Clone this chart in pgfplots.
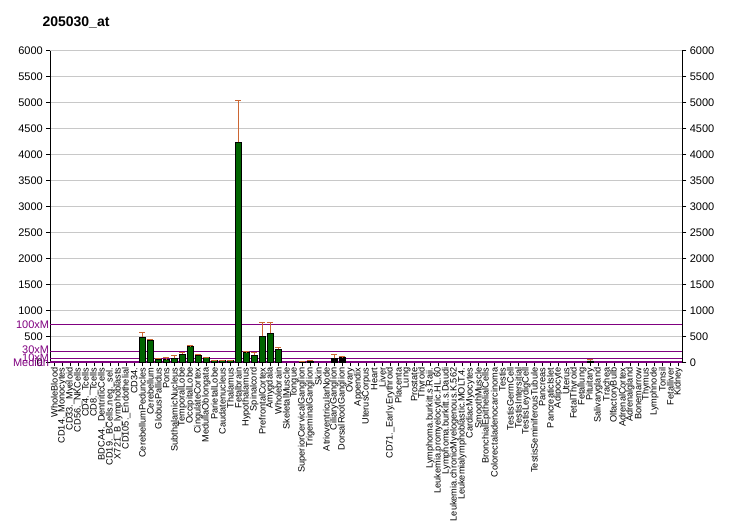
\documentclass[border=0pt]{standalone}
\usepackage{pgfplots}
\pgfplotsset{compat=1.18}
\usepackage{pgfplotstable}
\usepackage{fontspec}
\setmainfont{Liberation Sans}
\definecolor{bargreen}{RGB}{0,100,0}
\definecolor{errorange}{RGB}{204,102,51}
\definecolor{refpurple}{RGB}{128,0,128}
\definecolor{gridgray}{RGB}{200,200,200}

\pgfplotstableread{
x y e
12 490 90
13 427 16
14 67 20
15 55 46
16 80 58
17 163 33
18 300 30
19 144 19
20 99 3
21 45 3
22 35 13
23 45 3
24 4235 795
25 202 5
26 138 58
27 504 269
28 561 212
29 254 38
32 10 10
}\greendata

\pgfplotstableread{
x y e
33 30 18
36 80 78
37 106 2
68 30 24
}\blackdata

\begin{document}
\begin{tikzpicture}[x=1pt,y=1pt]
\path[use as bounding box] (0,0) rectangle (732,530);
\node[anchor=base west,font=\fontsize{14}{16}\selectfont\bfseries] at (39,503) {205030\_at};
\begin{axis}[
  at={(50.3pt,167.5pt)}, anchor=south west,
  scale only axis, width=632pt, height=312pt,
  xmin=0.5, xmax=79.5, ymin=0, ymax=6000,
  axis y line*=left, axis x line*=bottom,
  axis line style={black, line width=0.8pt},
  ytick={0,500,...,6000},
  ymajorgrids, grid style={gridgray, line width=0.8pt},
  yticklabel style={font=\fontsize{11}{12}\selectfont, /pgf/number format/.cd, fixed, set thousands separator={}},
  /pgf/number format/assume math mode=true,
  tick style={black, line width=0.6pt},
  tick align=outside, major tick length=4pt,
  xtick={1,...,79},
  xticklabels={WholeBlood, CD14.\_Monocytes, CD33.\_Myeloid, CD56.\_NKCells, CD4.\_Tcells, CD8.\_Tcells, BDCA4.\_DentriticCells, CD19.\_BCells.neg.\_sel., X721\_B\_lymphoblasts, CD105.\_Endothelial, CD34., CerebellumPeduncles, Cerebellum, GlobusPallidus, Pons, SubthalamicNucleus, TemporalLobe, OccipitalLobe, CingulateCortex, MedullaOblongata, ParietalLobe, Caudatenucleus, Thalamus, Fetalbrain, Hypothalamus, Spinalcord, PrefrontalCortex, Amygdala, Wholebrain, SkeletalMuscle, Tongue, SuperiorCervicalGanglion, TrigeminalGanglion, Skin, AtrioventricularNode, CiliaryGanglion, DorsalRootGanglion, Ovary, Appendix, UterusCorpus, Heart, Liver, CD71.\_Early.Erythroid, Placenta, Lung, Prostate, Thyroid, Lymphoma.burkitt.s.Raji., Leukemia.promyelocytic.HL.60, Lymphoma.burkitt.s.Daudi, Leukemia.chronicMyelogenous.K.562, Leukemialymphoblastic.MOLT.4., CardiacMyocytes, SmoothMuscle, BronchialEpithelialCells, Colorectaladenocarcinoma, Testis, TestisGermCell, TestisIntersitial, TestisLeydigCell, TestisSeminiferousTubule, Pancreas, PancreaticIslet, Adipocyte, Uterus, FetalThyroid, Fetallung, Pituitary, Salivarygland, Trachea, OlfactoryBulb, AdrenalCortex, Adrenalgland, Bonemarrow, Thymus, Lymphnode, Tonsil, Fetalliver, Kidney},
  xticklabel style={rotate=90, anchor=east, font=\fontsize{9.2}{10}\selectfont, inner sep=1pt},
  clip=false,
]
% reference lines
\addplot[refpurple, line width=1pt, forget plot] coordinates {(0.5,735) (79.5,735)};
\addplot[refpurple, line width=1pt, forget plot] coordinates {(0.5,220) (79.5,220)};
\addplot[refpurple, line width=1pt, forget plot] coordinates {(0.5,73.5) (79.5,73.5)};
\addplot[refpurple, line width=2.2pt, forget plot] coordinates {(0.5,7.35) (79.5,7.35)};
% bars
\addplot[ybar, bar width=6pt, bar shift=0pt, fill=bargreen, draw=black, line width=0.8pt,
  error bars/.cd, y dir=plus, y explicit,
  error bar style={errorange, line width=0.9pt},
  error mark options={errorange, rotate=90, mark size=3pt, line width=0.9pt}]
  table[x=x, y=y, y error=e] {\greendata};
\addplot[ybar, bar width=6pt, bar shift=0pt, fill=black, draw=black, line width=0.8pt,
  error bars/.cd, y dir=plus, y explicit,
  error bar style={errorange, line width=0.9pt},
  error mark options={errorange, rotate=90, mark size=3pt, line width=0.9pt}]
  table[x=x, y=y, y error=e] {\blackdata};
% reference labels
\node[anchor=east, text=refpurple, font=\fontsize{11}{12}\selectfont, inner sep=1pt] at (axis cs:0.5,735) {100xM};
\node[anchor=east, text=refpurple, font=\fontsize{11}{12}\selectfont, inner sep=1pt] at (axis cs:0.5,250) {30xM};
\node[anchor=east, text=refpurple, font=\fontsize{11}{12}\selectfont, inner sep=1pt] at (axis cs:0.5,100) {10xM};
\node[anchor=east, text=refpurple, font=\fontsize{11}{12}\selectfont, inner sep=1pt] at (axis cs:0.5,-5) {Median};
\end{axis}
\begin{axis}[
  at={(50.3pt,167.5pt)}, anchor=south west,
  scale only axis, width=632pt, height=312pt,
  xmin=0.5, xmax=79.5, ymin=0, ymax=6000,
  axis y line*=right, axis x line=none,
  axis line style={black, line width=0.8pt},
  ytick={0,500,...,6000},
  yticklabel style={font=\fontsize{11}{12}\selectfont, /pgf/number format/.cd, fixed, set thousands separator={}},
  /pgf/number format/assume math mode=true,
  tick style={black, line width=0.6pt},
  tick align=outside, major tick length=4pt,
]
\addplot[draw=none, forget plot] coordinates {(1,0)};
\end{axis}
\end{tikzpicture}
\end{document}
